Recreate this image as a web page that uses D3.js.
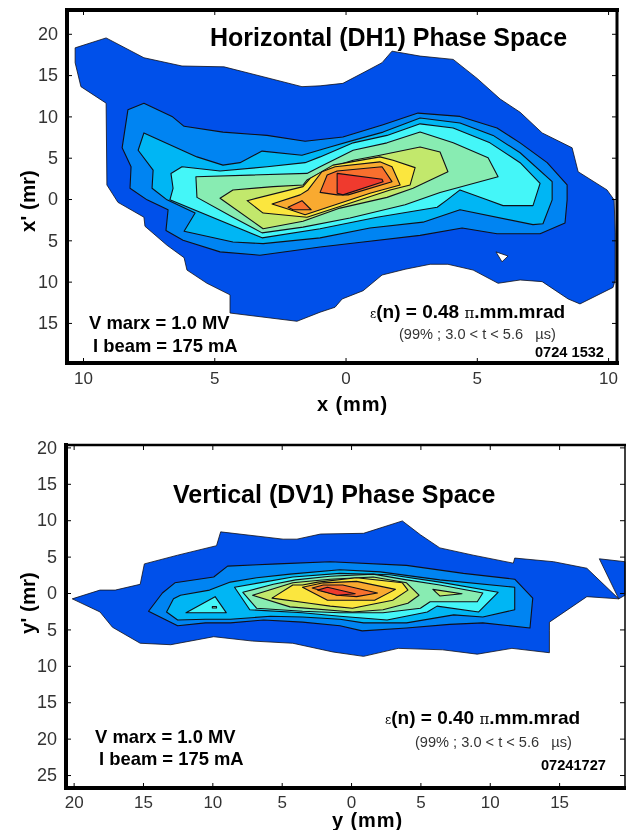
<!DOCTYPE html>
<html>
<head>
<meta charset="utf-8">
<script src="https://cdnjs.cloudflare.com/ajax/libs/d3/7.8.5/d3.min.js"></script>
<style>
  html, body { margin: 0; padding: 0; background: #fff; }
  svg { display: block; font-family: "Liberation Sans", Arial, sans-serif; filter: blur(0.35px); }
  .tick text { fill: #333; }
</style>
</head>
<body>
<div id="chart"></div>
<script>
// contour outlines, in mm / mrad. negative = left or below centre
const dhOuter = [[-10.30,18.3],[-9.12,19.5],[-7.68,17.1],[-6.23,16.1],[-4.63,16.0],[-3.14,14.8],[-1.66,13.6],[-0.97,13.7],[-0.10,14.0],[0.74,15.4],[1.39,16.5],[1.77,17.9],[2.84,17.3],[4.10,16.9],[5.01,14.6],[5.89,12.1],[6.65,10.5],[7.49,8.0],[8.63,6.2],[8.86,3.3],[9.96,1.1],[10.23,-0.1],[10.27,-4.1],[10.27,-9.8],[10.19,-10.7],[8.93,-12.7],[8.48,-12.1],[7.49,-10.0],[6.65,-9.8],[5.81,-10.2],[4.86,-8.6],[3.90,-7.9],[3.22,-7.9],[2.27,-8.5],[1.39,-9.2],[0.67,-11.1],[-0.13,-12.1],[-0.40,-13.1],[-0.97,-13.7],[-1.85,-14.8],[-4.40,-13.8],[-4.40,-11.6],[-5.28,-10.2],[-6.04,-8.6],[-6.15,-7.1],[-6.80,-5.6],[-7.64,-3.3],[-7.68,-2.2],[-8.67,-0.4],[-9.09,1.7],[-9.12,11.6],[-10.08,13.6],[-10.30,16.5]];
const dhHole = [[5.73,-6.4],[6.19,-6.9],[5.96,-7.6]];
const dh2 = [[-8.29,10.8],[-7.68,11.6],[-6.61,10.0],[-6.15,8.8],[-4.67,8.1],[-2.99,7.7],[-1.54,7.0],[-0.10,7.5],[1.43,9.0],[2.76,10.4],[4.36,10.0],[5.77,8.6],[6.65,6.8],[7.68,4.4],[8.44,1.7],[8.44,-0.1],[8.36,-2.9],[7.41,-4.2],[5.77,-4.2],[4.44,-3.5],[2.84,-4.4],[0.67,-5.2],[-0.97,-5.8],[-3.26,-6.8],[-4.78,-6.4],[-6.19,-5.0],[-6.84,-3.8],[-6.76,-1.3],[-7.56,-0.1],[-8.21,1.3],[-8.17,3.9],[-8.51,6.2]];
const dh3 = [[-7.68,8.0],[-5.66,5.1],[-4.67,4.1],[-4.02,4.4],[-3.18,5.8],[-1.66,5.3],[-0.59,6.3],[0.29,7.1],[1.43,8.1],[2.84,9.8],[4.36,9.2],[5.62,7.7],[6.65,5.6],[7.87,2.1],[7.87,-0.1],[7.52,-3.0],[7.14,-3.1],[4.36,-1.3],[2.95,-2.8],[0.93,-3.5],[-0.97,-4.7],[-3.14,-5.4],[-4.29,-5.2],[-6.15,-3.9],[-5.73,-1.7],[-6.80,-0.1],[-7.37,1.3],[-7.33,3.5],[-7.90,5.9]];
const dh4 = [[-6.65,3.1],[-6.23,3.9],[-4.78,3.4],[-2.99,3.9],[-1.54,4.4],[-0.97,5.1],[0.29,6.8],[1.58,7.7],[2.84,9.1],[4.10,8.6],[5.50,6.8],[6.65,4.4],[7.41,1.9],[7.14,-0.8],[6.00,-0.8],[5.39,-0.1],[4.36,1.1],[3.87,-0.1],[3.49,-1.0],[1.20,-2.2],[-0.97,-3.6],[-3.18,-4.7],[-6.69,-0.1],[-6.57,1.3]];
const dh5 = [[-5.70,2.7],[-1.47,3.1],[-0.97,3.9],[0.29,5.9],[1.58,6.8],[2.84,8.1],[4.10,6.8],[5.43,5.0],[5.81,2.7],[3.60,0.8],[2.27,-0.7],[0.17,-2.3],[-1.62,-3.4],[-3.18,-4.1],[-4.29,-2.2],[-5.66,0.2]];
const dh6 = [[-4.78,0.1],[-4.29,1.1],[-2.76,1.5],[-1.62,1.7],[-1.47,2.3],[-0.59,3.8],[0.29,4.7],[1.31,5.3],[2.84,6.3],[3.60,5.7],[3.90,3.3],[2.57,1.3],[1.58,0.2],[-0.21,-1.1],[-1.62,-2.7],[-3.14,-3.6]];
const dh7 = [[-3.75,-0.2],[-1.62,1.5],[-1.35,2.5],[-0.48,4.1],[1.31,5.1],[1.81,4.7],[2.65,3.8],[2.46,1.7],[1.70,1.1],[-1.47,-2.2],[-3.14,-1.7]];
const dh8 = [[-2.80,-0.6],[-1.73,0.5],[-1.43,1.1],[-0.90,3.3],[-0.40,3.9],[1.31,4.5],[1.77,3.9],[2.08,1.7],[0.93,0.7],[-1.54,-1.9],[-2.11,-1.3]];
const dh9a = [[-2.19,-1.0],[-1.66,-0.2],[-1.31,-1.3],[-2.00,-1.3]];
const dh9b = [[-0.97,0.8],[-0.70,2.9],[-0.32,3.4],[1.39,3.9],[1.77,2.1],[0.10,0.5],[-0.32,0.5]];
const dh10 = [[-0.32,3.1],[1.39,2.4],[1.43,2.1],[-0.10,0.5],[-0.32,0.7]];

const dvOuter = [[-20.1,-0.8],[-18.1,0.4],[-17.0,0.4],[-15.2,1.2],[-14.9,4.0],[-12.5,5.2],[-9.7,6.5],[-9.4,8.4],[-4.9,7.4],[-3.9,7.4],[-2.2,8.1],[0.9,8.2],[3.7,9.9],[5.0,8.0],[6.4,6.2],[8.8,5.2],[11.7,4.1],[11.8,4.8],[14.6,4.3],[17.0,3.4],[19.3,-0.8],[17.0,-0.5],[14.3,-4.0],[14.3,-5.1],[14.3,-8.2],[11.6,-7.6],[9.1,-8.4],[6.6,-7.8],[3.4,-7.6],[0.9,-8.7],[-1.3,-8.1],[-4.2,-6.9],[-7.1,-6.6],[-9.9,-6.0],[-13.0,-7.1],[-15.2,-6.9],[-17.2,-4.7],[-18.1,-2.6]];
const dvCorner = [[17.9,4.7],[19.75,4.3],[19.75,-0.3],[19.3,-0.8]];
const dv2 = [[-14.6,-2.5],[-13.6,0],[-12.7,1.4],[-9.9,2.2],[-8.9,3.7],[-5.3,4.0],[-1.5,4.3],[4.0,3.8],[8.1,2.7],[11.8,1.9],[13.1,-0.7],[12.9,-4.8],[9.5,-4.1],[7.1,-4.3],[4.0,-4.8],[0.8,-5.2],[-0.8,-4.5],[-3.5,-4.0],[-6.3,-3.7],[-8.7,-4.1],[-10.5,-4.1],[-12.5,-4.5]];
const dv3 = [[-13.3,-2.6],[-12.8,-0.8],[-12.3,-0.3],[-10.2,0.4],[-8.7,1.5],[-6.8,2.1],[-4.4,2.6],[-0.8,3.2],[2.1,2.9],[6.4,1.8],[11.8,0.8],[11.8,-2.3],[9.5,-3.3],[7.4,-3.0],[4.0,-4.1],[0.9,-4.1],[-0.8,-3.6],[-3.5,-3.3],[-5.8,-3.2],[-8.7,-3.6],[-10.5,-3.6],[-12.5,-3.7]];
const dv4a = [[-11.9,-2.7],[-9.8,-0.5],[-9.0,-2.7]];
const dv4b = [[-8.4,0.8],[-6.3,1.5],[-4.2,2.2],[-0.8,2.7],[2.8,2.5],[6.4,1.5],[10.6,0.1],[9.2,-2.6],[6.2,-1.8],[5.5,-2.6],[2.6,-3.7],[-0.8,-3.2],[-3.5,-2.7],[-7.3,-2.3]];
const dv5a = [[-10.0,-1.85],[-9.7,-1.85],[-9.7,-2.05],[-10.0,-2.05]];
const dv5b = [[-7.8,0.1],[-5.6,1.2],[-4.0,1.8],[-1.5,2.3],[1.6,2.6],[4.0,1.8],[6.4,1.1],[9.5,0],[9.1,-1.2],[5.7,-1.2],[5.0,-2.1],[2.3,-2.7],[-0.8,-2.7],[-3.5,-2.5],[-6.8,-2.1]];
const dv6a = [[-7.1,-0.3],[-4.2,1.4],[-1.5,1.9],[1.6,2.2],[4.0,1.4],[4.9,-0.3],[4.1,-1.4],[2.3,-2.3],[0.1,-2.6],[-4.4,-1.9]];
const dv6b = [[5.9,0.5],[8.0,-0.1],[6.4,-0.4]];
const dv7 = [[-5.7,-0.7],[-4.2,1.1],[-3.5,1.1],[-2.4,1.5],[0.4,2.1],[3.7,1.4],[4.1,0.4],[3.0,-1.0],[0.1,-2.1],[-1.5,-1.8],[-3.0,-1.4]];
const dv8 = [[-3.5,0.8],[-2.0,1.4],[0.4,1.6],[3.2,0.5],[1.7,-1.0],[0.6,-1.0],[-1.7,-1.0]];
const dv9 = [[-2.8,0.7],[-2.0,1.1],[-0.6,1.1],[1.9,0],[0.4,-0.5],[-1.0,-0.3]];
const dv10 = [[-2.4,0.4],[-1.7,0.8],[0.3,-0.1],[-1.0,-0.3]];

const dhTicksX = [-10, -5, 0, 5, 10];
const dhTicksY = [20, 15, 10, 5, 0, -5, -10, -15];
const dvTicksX = [-20, -15, -10, -5, 0, 5, 10, 15];
const dvTicksY = [20, 15, 10, 5, 0, -5, -10, -15, -20, -25];

const levelColors = ["#0050ea", "#0084f2", "#00b6f4", "#44f6f8", "#88ecb2", "#c2e86c", "#fbe63e", "#f9aa30", "#f8702e", "#ef3a2e"];

const svg = d3.select("#chart").append("svg")
    .attr("width", 626)
    .attr("height", 830);

function drawPanel(p) {
  const g = svg.append("g");
  const x = d3.scaleLinear().domain(p.xDomain).range([p.left, p.right]);
  const y = d3.scaleLinear().domain(p.yDomain).range([p.bottom, p.top]);
  const line = d3.line().x(d => x(d[0])).y(d => y(d[1]));

  p.levels.forEach((polys, i) => {
    g.append("path")
      .attr("d", polys.map(q => line(q) + "Z").join(""))
      .attr("fill", levelColors[i])
      .attr("fill-rule", "evenodd")
      .attr("stroke", "#101018")
      .attr("stroke-width", i === 0 ? 0.8 : 1.1)
      .attr("stroke-linejoin", "round");
  });

  // ticks go inward on all four sides
  const tickLen = -5;
  g.append("g").attr("transform", `translate(0,${p.bottom})`)
    .call(d3.axisBottom(x).tickValues(p.ticksX).tickFormat(Math.abs).tickSizeInner(tickLen).tickSizeOuter(0).tickPadding(p.xPad))
    .call(a => a.select(".domain").remove())
    .selectAll("text").attr("font-size", 17).attr("font-family", "Liberation Sans");
  g.append("g").attr("transform", `translate(0,${p.top})`)
    .call(d3.axisTop(x).tickValues(p.ticksX).tickFormat("").tickSizeInner(tickLen).tickSizeOuter(0))
    .call(a => a.select(".domain").remove());
  g.append("g").attr("transform", `translate(${p.left},0)`)
    .call(d3.axisLeft(y).tickValues(p.ticksY).tickFormat(Math.abs).tickSizeInner(tickLen).tickSizeOuter(0).tickPadding(9))
    .call(a => a.select(".domain").remove())
    .selectAll("text").attr("font-size", 18).attr("font-family", "Liberation Sans");
  g.append("g").attr("transform", `translate(${p.right},0)`)
    .call(d3.axisRight(y).tickValues(p.ticksY).tickFormat("").tickSizeInner(tickLen).tickSizeOuter(0))
    .call(a => a.select(".domain").remove());

  // frame, left and bottom heavier than the rest
  const frame = [
    [p.left, p.top, p.right, p.top, p.topW],
    [p.right, p.top, p.right, p.bottom, p.rightW],
    [p.left, p.bottom, p.right, p.bottom, 4],
    [p.left, p.top, p.left, p.bottom, 4]
  ];
  g.selectAll(".frame").data(frame).enter().append("line")
    .attr("class", "frame")
    .attr("x1", d => d[0]).attr("y1", d => d[1])
    .attr("x2", d => d[2]).attr("y2", d => d[3])
    .attr("stroke", "#000")
    .attr("stroke-width", d => d[4])
    .attr("stroke-linecap", "square");

  const label = (tx, ty, str, size, weight) => g.append("text")
    .attr("x", tx).attr("y", ty)
    .attr("font-size", size)
    .attr("font-weight", weight || "bold")
    .text(str);

  label(p.title[0], p.title[1], p.title[2], 25);
  label(p.marx[0], p.marx[1], "V marx = 1.0 MV", 18.4);
  label(p.beam[0], p.beam[1], "I beam = 175 mA", 18.4);

  const emit = label(p.emit[0], p.emit[1], "", 19);
  emit.append("tspan").attr("font-family", "DejaVu Serif").attr("font-size", 12).attr("font-weight", "normal").text("\u03b5");
  emit.append("tspan").text(`(n) = ${p.emit[2]}  `);
  emit.append("tspan").attr("font-family", "DejaVu Serif").attr("font-size", 15).attr("font-weight", "normal").text("\u03c0");
  emit.append("tspan").text(".mm.mrad");

  label(p.sub[0], p.sub[1], "(99% ; 3.0 < t < 5.6   \u00b5s)", 14.6, "normal")
    .attr("fill", "#333").style("white-space", "pre");
  label(p.stamp[0], p.stamp[1], p.stamp[2], 14.6);
  label(p.xLabel[0], p.xLabel[1], p.xLabel[2], 20).attr("letter-spacing", 0.9);
  label(0, 0, p.yLabel[2], 20.5)
    .attr("text-anchor", "middle")
    .attr("transform", `translate(${p.yLabel[0]},${p.yLabel[1]}) rotate(-90)`);
}

drawPanel({
  left: 67, right: 617, top: 10, bottom: 363,
  xDomain: [-10.61, 10.34], yDomain: [-19.85, 22.88],
  ticksX: dhTicksX, ticksY: dhTicksY, xPad: 9, topW: 4, rightW: 3,
  levels: [[dhOuter, dhHole], [dh2], [dh3], [dh4], [dh5], [dh6], [dh7], [dh8], [dh9a, dh9b], [dh10]],
  title: [210, 46, "Horizontal (DH1) Phase Space"],
  marx: [89, 329], beam: [93, 352],
  emit: [370, 318, "0.48"],
  sub: [399, 339],
  stamp: [535, 357, "0724 1532"],
  xLabel: [317, 411, "x (mm)"],
  yLabel: [35, 201, "x' (mr)"]
});

drawPanel({
  left: 66, right: 625, top: 445, bottom: 788,
  xDomain: [-20.55, 19.75], yDomain: [-26.78, 20.33],
  ticksX: dvTicksX, ticksY: dvTicksY, xPad: 8, topW: 2.5, rightW: 1.5,
  levels: [[dvOuter, dvCorner], [dv2], [dv3], [dv4a, dv4b], [dv5a, dv5b], [dv6a, dv6b], [dv7], [dv8], [dv9], [dv10]],
  title: [173, 503, "Vertical (DV1) Phase Space"],
  marx: [95, 743], beam: [99, 765],
  emit: [385, 724, "0.40"],
  sub: [415, 747],
  stamp: [541, 770, "07241727"],
  xLabel: [332, 827, "y (mm)"],
  yLabel: [35, 603, "y' (mr)"]
});
</script>
</body>
</html>
